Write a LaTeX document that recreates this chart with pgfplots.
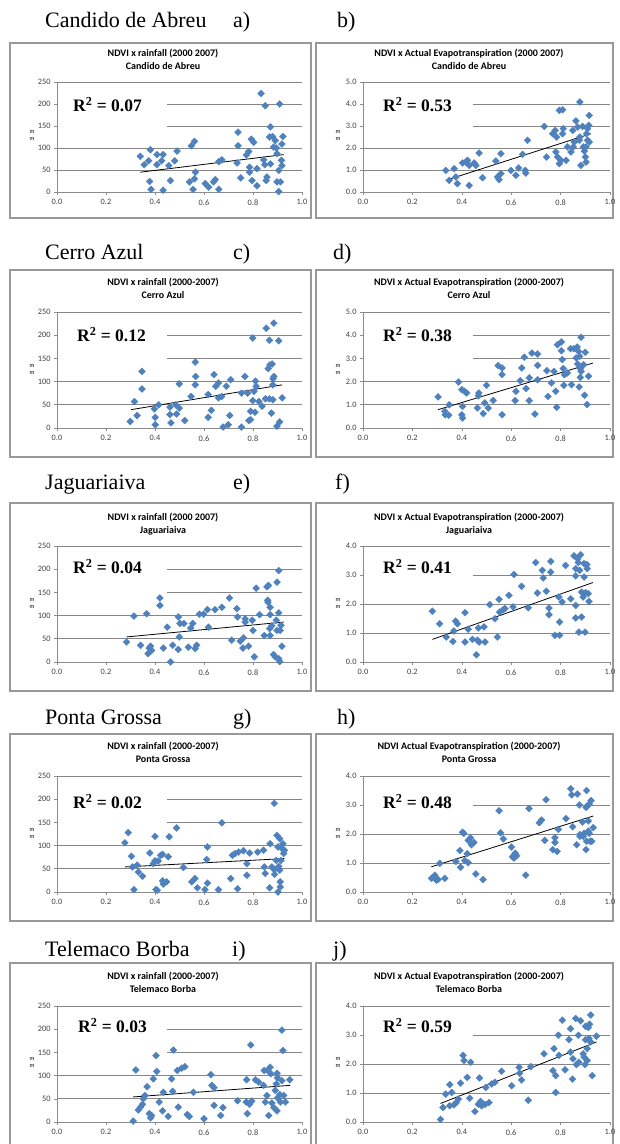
\documentclass[border=0pt]{standalone}
\usepackage{fontspec}
\setmainfont{Liberation Serif}
\newfontfamily\carl{Carlito}
\usepackage{pgfplots}
\pgfplotsset{compat=1.18}
\definecolor{ptblue}{HTML}{4F81BD}
\newcommand\tickf{\carl\fontsize{8.3}{9}\selectfont}
\newcommand\titf{\carl\bfseries\fontsize{10}{11}\selectfont}
\newcommand\hdf{\fontsize{22}{24}\selectfont}
\newcommand\rf{\bfseries\fontsize{17.5}{19}\selectfont}
\newcommand\mf{\carl\fontsize{6}{7}\selectfont}
\pgfplotsset{
  base/.style={scale only axis, anchor=south west, xmin=0, xmax=1, ymin=0, clip=false,
    axis x line=bottom, axis y line=left,
    axis line style={-, draw=gray!90, line width=0.7pt},
    xtick={0,0.2,0.4,0.6,0.8,1.0},
    tick align=outside, major tick length=3pt,
    tick style={draw=gray!90, line width=0.6pt},
    ymajorgrids, grid style={draw=gray!95, line width=0.9pt},
    tick label style={font=\tickf, text=black!75},
    xticklabel style={yshift=-1pt},
    /pgf/number format/assume math mode=true,
    xticklabel style={/pgf/number format/.cd, fixed, fixed zerofill, precision=1},
  },
  lft/.style={base, width=245pt, ymax=250, ytick={0,50,100,150,200,250},
    yticklabel style={/pgf/number format/fixed}},
  rgt5/.style={base, width=247pt, ymax=5, ytick={0,1,2,3,4,5},
    yticklabel style={/pgf/number format/.cd, fixed, fixed zerofill, precision=1}},
  rgt4/.style={base, width=247pt, ymax=4, ytick={0,1,2,3,4},
    yticklabel style={/pgf/number format/.cd, fixed, fixed zerofill, precision=1}},
  pts/.style={only marks, mark=square*, mark size=2.5pt,
    mark options={rotate=45, fill=ptblue, draw=ptblue, line width=0.2pt}},
  trend/.style={black, line width=0.8pt, no marks},
}
\begin{document}
\begin{tikzpicture}
\useasboundingbox (0pt,0pt) rectangle (619pt,1144pt);
% frames
\begin{scope}[draw=gray!80, line width=1.1pt]
\draw (10pt,1101pt) rectangle (311pt,926pt);
\draw (316pt,1101pt) rectangle (613pt,926pt);
\draw (10pt,874pt) rectangle (311pt,687pt);
\draw (316pt,874pt) rectangle (613pt,687pt);
\draw (10pt,641pt) rectangle (311pt,453pt);
\draw (316pt,641pt) rectangle (613pt,453pt);
\draw (10pt,410pt) rectangle (311pt,223pt);
\draw (316pt,410pt) rectangle (613pt,223pt);
\draw (10pt,181pt) rectangle (311pt,-10pt);
\draw (316pt,181pt) rectangle (613pt,-10pt);
\end{scope}
% headers
\node[anchor=base west, inner sep=0pt] at (45pt,1116pt) {\hdf Candido de Abreu};
\node[anchor=base west, inner sep=0pt] at (233pt,1116pt) {\hdf a)};
\node[anchor=base west, inner sep=0pt] at (337pt,1116pt) {\hdf b)};
\node[anchor=base west, inner sep=0pt] at (45pt,884pt) {\hdf Cerro Azul};
\node[anchor=base west, inner sep=0pt] at (233pt,884pt) {\hdf c)};
\node[anchor=base west, inner sep=0pt] at (333pt,884pt) {\hdf d)};
\node[anchor=base west, inner sep=0pt] at (45pt,654pt) {\hdf Jaguariaiva};
\node[anchor=base west, inner sep=0pt] at (233pt,654pt) {\hdf e)};
\node[anchor=base west, inner sep=0pt] at (335pt,654pt) {\hdf f)};
\node[anchor=base west, inner sep=0pt] at (45pt,419pt) {\hdf Ponta Grossa};
\node[anchor=base west, inner sep=0pt] at (233pt,419pt) {\hdf g)};
\node[anchor=base west, inner sep=0pt] at (337pt,419pt) {\hdf h)};
\node[anchor=base west, inner sep=0pt] at (45pt,187pt) {\hdf Telemaco Borba};
\node[anchor=base west, inner sep=0pt] at (232pt,187pt) {\hdf i)};
\node[anchor=base west, inner sep=0pt] at (333pt,187pt) {\hdf j)};
% titles
\foreach \yy/\l/\r/\ll/\rr in {1090/{NDVI x rainfall (2000 2007)}/{NDVI x Actual Evapotranspiration (2000 2007)}/{Candido de Abreu}/{Candido de Abreu},
  861/{NDVI x rainfall (2000-2007)}/{NDVI x Actual Evapotranspiration (2000-2007)}/{Cerro Azul}/{Cerro Azul},
  626/{NDVI x rainfall (2000 2007)}/{NDVI x Actual Evapotranspiration (2000-2007)}/{Jaguariaiva}/{Jaguariaiva},
  397/{NDVI x rainfall (2000-2007)}/{NDVI Actual Evapotranspiration (2000-2007)}/{Ponta Grossa}/{Ponta Grossa},
  167/{NDVI x rainfall (2000-2007)}/{NDVI x Actual Evapotranspiration (2000-2007)}/{Telemaco Borba}/{Telemaco Borba}}{
  \node[inner sep=0pt] at (163pt,\yy pt) {\titf \l};
  \node[inner sep=0pt] at (163pt,\yy pt-12.5pt) {\titf \ll};
  \node[inner sep=0pt] at (469pt,\yy pt) {\titf \r};
  \node[inner sep=0pt] at (469pt,\yy pt-12.5pt) {\titf \rr};
}
% m m labels
\foreach \yy in {1008,774,540,310,81}{
  \node[inner sep=0pt, font=\mf] at (32pt,\yy pt+3.5pt) {m};
  \node[inner sep=0pt, font=\mf] at (32pt,\yy pt-3.5pt) {m};
  \node[inner sep=0pt, font=\mf] at (338pt,\yy pt+3.5pt) {m};
  \node[inner sep=0pt, font=\mf] at (338pt,\yy pt-3.5pt) {m};
}
%%%%% a
\begin{axis}[lft, at={(57pt,952pt)}, height=110pt]
\fill[white] (axis cs:0.005,125) rectangle (axis cs:0.449,225);
\addplot[pts] coordinates {(0.34,81)(0.356,62)(0.374,71)(0.381,96)(0.378,24)(0.384,6)(0.408,85)(0.408,62)(0.433,4)(0.433,85)(0.427,71)(0.456,60)(0.463,26)(0.48,71)(0.49,93)(0.548,105)(0.561,115)(0.541,23)(0.555,6)(0.561,30)(0.565,45)(0.605,19)(0.619,11)(0.639,23)(0.646,28)(0.66,6)(0.66,69)(0.673,73)(0.739,136)(0.739,105)(0.735,66)(0.75,32)(0.773,84)(0.782,92)(0.793,120)(0.803,113)(0.786,56)(0.786,45)(0.796,26)(0.816,14)(0.816,53)(0.833,224)(0.85,196)(0.844,73)(0.848,62)(0.854,26)(0.857,34)(0.871,148)(0.871,64)(0.88,126)(0.891,117)(0.895,100)(0.898,87)(0.898,23)(0.909,200)(0.905,1)(0.905,49)(0.912,23)(0.916,72)(0.918,109)(0.922,126)(0.918,60)(0.868,125)(0.884,102)};
\addplot[trend] coordinates {(0.34,45)(0.925,85)};
\end{axis}
\node[anchor=base west, inner sep=0pt] at (73pt,1032pt) {\rf R\textsuperscript{2} = 0.07};
%%%%% b
\begin{axis}[rgt5, at={(363pt,952pt)}, height=110pt]
\fill[white] (axis cs:0.005,2.5) rectangle (axis cs:0.445,4.5);
\addplot[pts] coordinates {(0.335,0.98)(0.349,0.53)(0.369,1.06)(0.376,0.68)(0.382,0.38)(0.403,1.32)(0.416,1.36)(0.423,1.44)(0.43,1.21)(0.43,0.30)(0.45,1.32)(0.457,1.21)(0.47,1.77)(0.484,0.65)(0.538,1.41)(0.545,0.68)(0.551,0.56)(0.558,0.83)(0.558,1.74)(0.599,0.98)(0.619,0.76)(0.63,1.09)(0.646,1.71)(0.657,0.98)(0.659,0.86)(0.666,2.35)(0.734,2.98)(0.743,1.59)(0.768,2.65)(0.778,2.80)(0.784,2.50)(0.781,1.82)(0.788,1.59)(0.795,1.29)(0.801,1.44)(0.808,2.65)(0.811,2.88)(0.822,1.44)(0.795,3.71)(0.808,3.74)(0.828,2.05)(0.842,1.82)(0.849,2.80)(0.851,2.05)(0.855,2.27)(0.862,3.23)(0.869,2.95)(0.876,2.35)(0.878,2.50)(0.878,4.09)(0.889,2.98)(0.892,2.05)(0.896,1.86)(0.882,1.21)(0.9,1.59)(0.903,1.36)(0.905,2.65)(0.909,2.88)(0.914,3.03)(0.916,3.48)(0.916,2.27)(0.909,2.35)(0.903,2.05)};
\addplot[trend] coordinates {(0.335,0.53)(0.923,2.65)};
\end{axis}
\node[anchor=base west, inner sep=0pt] at (383pt,1032pt) {\rf R\textsuperscript{2} = 0.53};
%%%%% c
\begin{axis}[lft, at={(57pt,716pt)}, height=116pt]
\fill[white] (axis cs:0.005,125) rectangle (axis cs:0.449,225);
\addplot[pts] coordinates {(0.299,14)(0.316,57)(0.327,27)(0.347,122)(0.347,84)(0.397,41)(0.401,23)(0.401,7)(0.415,50)(0.461,45)(0.461,29)(0.465,11)(0.485,50)(0.488,30)(0.499,95)(0.499,43)(0.521,16)(0.547,68)(0.564,142)(0.566,111)(0.564,93)(0.617,23)(0.617,72)(0.63,38)(0.641,115)(0.648,90)(0.659,97)(0.659,65)(0.672,68)(0.678,2)(0.691,90)(0.699,7)(0.705,27)(0.709,104)(0.753,75)(0.753,2)(0.767,111)(0.778,75)(0.783,16)(0.79,18)(0.799,194)(0.799,59)(0.804,79)(0.808,34)(0.81,101)(0.813,90)(0.824,57)(0.837,47)(0.851,63)(0.854,215)(0.862,128)(0.867,189)(0.869,136)(0.878,138)(0.881,61)(0.881,93)(0.885,226)(0.882,106)(0.875,32)(0.905,188)(0.898,4)(0.909,13)(0.919,65)(0.867,63)(0.885,111)(0.79,36)};
\addplot[trend] coordinates {(0.302,39.5)(0.919,93)};
\end{axis}
\node[anchor=base west, inner sep=0pt] at (77pt,802pt) {\rf R\textsuperscript{2} = 0.12};
%%%%% d
\begin{axis}[rgt5, at={(363pt,716pt)}, height=116pt]
\fill[white] (axis cs:0.005,2.5) rectangle (axis cs:0.445,4.5);
\addplot[pts] coordinates {(0.304,1.34)(0.331,0.72)(0.333,0.57)(0.347,0.55)(0.349,1.0)(0.387,1.98)(0.4,1.65)(0.403,0.93)(0.4,0.57)(0.403,0.43)(0.411,1.58)(0.42,1.51)(0.463,0.86)(0.467,1.39)(0.469,1.51)(0.487,0.62)(0.493,1.08)(0.5,1.84)(0.507,0.86)(0.527,1.19)(0.547,2.69)(0.563,2.59)(0.563,2.30)(0.563,0.57)(0.616,1.18)(0.619,1.58)(0.637,2.04)(0.643,2.59)(0.653,3.05)(0.66,1.70)(0.673,1.18)(0.673,2.16)(0.684,3.23)(0.696,0.60)(0.707,3.19)(0.707,2.70)(0.707,2.08)(0.744,2.47)(0.749,1.36)(0.763,1.94)(0.773,2.44)(0.78,1.58)(0.784,0.89)(0.787,3.59)(0.803,3.71)(0.803,3.33)(0.807,2.95)(0.811,2.56)(0.816,2.30)(0.813,1.84)(0.827,2.37)(0.84,3.42)(0.844,1.87)(0.853,3.42)(0.863,3.02)(0.867,3.49)(0.869,2.76)(0.873,3.30)(0.877,3.09)(0.88,2.56)(0.88,2.18)(0.875,1.77)(0.883,3.91)(0.883,2.44)(0.897,1.41)(0.9,3.26)(0.907,1.01)(0.913,2.23)(0.893,2.73)};
\addplot[trend] coordinates {(0.304,0.79)(0.931,2.80)};
\end{axis}
\node[anchor=base west, inner sep=0pt] at (383pt,802pt) {\rf R\textsuperscript{2} = 0.38};
%%%%% e
\begin{axis}[lft, at={(57pt,482pt)}, height=116pt]
\fill[white] (axis cs:0.005,125) rectangle (axis cs:0.449,225);
\addplot[pts] coordinates {(0.284,43)(0.314,99)(0.341,36)(0.366,104)(0.372,18)(0.376,30)(0.382,34)(0.386,25)(0.42,138)(0.42,122)(0.434,30)(0.45,75)(0.464,0)(0.472,36)(0.495,27)(0.495,97)(0.499,54)(0.502,83)(0.518,83)(0.536,32)(0.546,73)(0.554,83)(0.564,29)(0.57,36)(0.581,103)(0.598,103)(0.614,113)(0.618,75)(0.645,113)(0.673,118)(0.704,138)(0.713,47)(0.734,115)(0.737,97)(0.748,45)(0.759,30)(0.761,52)(0.768,93)(0.768,86)(0.782,34)(0.797,90)(0.8,68)(0.805,11)(0.813,159)(0.827,102)(0.846,57)(0.857,162)(0.86,133)(0.861,129)(0.863,165)(0.87,118)(0.87,102)(0.868,72)(0.87,57)(0.877,78)(0.884,16)(0.891,11)(0.895,90)(0.898,172)(0.905,197)(0.905,106)(0.905,7)(0.911,68)(0.914,79)(0.918,34)(0.909,1)(0.898,68)};
\addplot[trend] coordinates {(0.284,54)(0.925,86)};
\end{axis}
\node[anchor=base west, inner sep=0pt] at (73pt,570pt) {\rf R\textsuperscript{2} = 0.04};
%%%%% f
\begin{axis}[rgt4, at={(363pt,482pt)}, height=116pt]
\fill[white] (axis cs:0.005,2.5) rectangle (axis cs:0.445,3.5);
\addplot[pts] coordinates {(0.281,1.75)(0.31,1.32)(0.337,0.86)(0.364,0.71)(0.368,1.07)(0.375,1.41)(0.382,1.32)(0.413,0.69)(0.413,1.70)(0.426,1.13)(0.443,0.78)(0.459,0.25)(0.463,0.75)(0.467,1.17)(0.47,0.69)(0.49,1.21)(0.494,0.69)(0.513,1.98)(0.534,1.49)(0.544,0.86)(0.551,2.16)(0.553,1.72)(0.567,1.80)(0.575,1.84)(0.591,2.30)(0.607,1.90)(0.611,3.02)(0.642,2.61)(0.669,1.87)(0.699,3.43)(0.706,2.38)(0.726,3.16)(0.73,2.90)(0.742,2.44)(0.753,1.86)(0.753,1.63)(0.76,3.47)(0.76,3.10)(0.777,0.92)(0.793,2.24)(0.796,0.92)(0.796,1.38)(0.806,2.07)(0.82,3.33)(0.841,2.18)(0.854,3.66)(0.861,3.22)(0.861,2.97)(0.861,1.52)(0.861,1.95)(0.869,3.56)(0.872,3.43)(0.874,1.03)(0.877,3.16)(0.881,3.70)(0.885,1.55)(0.885,2.41)(0.891,2.24)(0.895,3.39)(0.895,2.93)(0.899,1.03)(0.901,2.39)(0.906,3.36)(0.908,3.22)(0.912,2.36)(0.915,2.09)};
\addplot[trend] coordinates {(0.281,0.78)(0.931,2.74)};
\end{axis}
\node[anchor=base west, inner sep=0pt] at (383pt,570pt) {\rf R\textsuperscript{2} = 0.41};
%%%%% g
\begin{axis}[lft, at={(57pt,252pt)}, height=116pt]
\fill[white] (axis cs:0.005,125) rectangle (axis cs:0.449,225);
\addplot[pts] coordinates {(0.277,106)(0.291,128)(0.304,77)(0.308,54)(0.314,5)(0.327,58)(0.332,43)(0.349,34)(0.379,84)(0.393,61)(0.4,67)(0.4,120)(0.404,5)(0.409,4)(0.413,67)(0.423,79)(0.431,81)(0.431,24)(0.434,17)(0.447,22)(0.454,76)(0.458,119)(0.488,138)(0.516,53)(0.55,22)(0.563,29)(0.573,9)(0.604,5)(0.611,70)(0.614,97)(0.614,19)(0.659,5)(0.673,149)(0.709,29)(0.716,79)(0.727,83)(0.737,7)(0.741,86)(0.761,89)(0.775,61)(0.775,36)(0.786,84)(0.819,86)(0.843,90)(0.846,54)(0.85,40)(0.868,9)(0.87,104)(0.877,54)(0.887,191)(0.887,48)(0.895,68)(0.898,122)(0.902,97)(0.902,0)(0.905,55)(0.909,115)(0.911,22)(0.911,11)(0.914,68)(0.918,94)(0.922,104)(0.925,83)(0.928,90)(0.909,47)(0.888,38)};
\addplot[trend] coordinates {(0.277,54)(0.928,72)};
\end{axis}
\node[anchor=base west, inner sep=0pt] at (73pt,335pt) {\rf R\textsuperscript{2} = 0.02};
%%%%% h
\begin{axis}[rgt4, at={(363pt,252pt)}, height=116pt]
\fill[white] (axis cs:0.005,2.5) rectangle (axis cs:0.445,3.5);
\addplot[pts] coordinates {(0.277,0.47)(0.291,0.58)(0.297,0.41)(0.304,0.43)(0.311,0.99)(0.331,0.47)(0.376,1.05)(0.392,1.43)(0.395,0.85)(0.403,2.06)(0.408,2.02)(0.412,1.08)(0.426,1.01)(0.422,1.32)(0.426,1.78)(0.435,1.87)(0.439,1.63)(0.449,1.71)(0.457,0.62)(0.486,0.43)(0.551,2.80)(0.557,2.04)(0.568,1.83)(0.601,1.55)(0.605,1.22)(0.611,1.17)(0.616,1.34)(0.622,1.25)(0.659,0.58)(0.672,2.88)(0.714,2.39)(0.723,2.48)(0.736,1.78)(0.741,3.18)(0.768,1.46)(0.777,1.71)(0.777,1.87)(0.786,1.40)(0.791,2.16)(0.822,2.53)(0.841,3.56)(0.845,3.35)(0.849,2.25)(0.865,1.63)(0.868,3.38)(0.876,3.00)(0.878,1.92)(0.889,2.41)(0.892,1.92)(0.895,2.02)(0.903,2.92)(0.903,1.46)(0.905,3.50)(0.905,1.75)(0.908,2.97)(0.912,2.45)(0.912,2.10)(0.916,3.03)(0.919,1.75)(0.923,3.15)(0.926,1.75)(0.932,2.22)(0.916,2.02)(0.878,1.98)};
\addplot[trend] coordinates {(0.277,0.87)(0.932,2.62)};
\end{axis}
\node[anchor=base west, inner sep=0pt] at (383pt,335pt) {\rf R\textsuperscript{2} = 0.48};
%%%%% i
\begin{axis}[lft, at={(57pt,22pt)}, height=116pt]
\fill[white] (axis cs:0.005,125) rectangle (axis cs:0.449,225);
\addplot[pts] coordinates {(0.311,2)(0.322,112)(0.332,26)(0.341,32)(0.349,38)(0.352,50)(0.359,57)(0.368,76)(0.377,18)(0.382,9)(0.386,14)(0.393,93)(0.404,143)(0.407,109)(0.417,43)(0.431,24)(0.434,64)(0.454,12)(0.468,93)(0.472,66)(0.475,155)(0.491,111)(0.495,32)(0.509,116)(0.522,119)(0.532,16)(0.54,12)(0.557,64)(0.6,7)(0.628,102)(0.632,79)(0.641,74)(0.641,36)(0.668,14)(0.677,31)(0.737,46)(0.772,43)(0.774,91)(0.777,18)(0.786,38)(0.791,166)(0.795,45)(0.81,91)(0.823,86)(0.843,79)(0.846,111)(0.85,43)(0.857,57)(0.86,111)(0.864,14)(0.87,118)(0.873,104)(0.877,41)(0.885,31)(0.891,68)(0.895,82)(0.898,24)(0.898,105)(0.9,95)(0.9,52)(0.909,59)(0.912,43)(0.918,198)(0.918,89)(0.922,154)(0.925,57)(0.932,43)(0.95,91)};
\addplot[trend] coordinates {(0.311,54)(0.952,79)};
\end{axis}
\node[anchor=base west, inner sep=0pt] at (78pt,111pt) {\rf R\textsuperscript{2} = 0.03};
%%%%% j
\begin{axis}[rgt4, at={(363pt,22pt)}, height=116pt]
\fill[white] (axis cs:0.005,2.5) rectangle (axis cs:0.445,3.5);
\addplot[pts] coordinates {(0.314,0.09)(0.324,0.50)(0.335,0.96)(0.351,0.56)(0.351,1.29)(0.359,1.02)(0.368,0.59)(0.378,0.67)(0.386,0.79)(0.395,1.34)(0.405,2.30)(0.409,2.12)(0.422,1.54)(0.432,0.82)(0.436,2.06)(0.453,0.36)(0.467,0.61)(0.472,1.52)(0.476,0.71)(0.48,0.56)(0.494,0.61)(0.497,1.19)(0.51,0.67)(0.521,1.31)(0.534,1.37)(0.561,1.75)(0.602,1.25)(0.632,1.89)(0.634,1.68)(0.642,1.45)(0.669,0.75)(0.679,1.91)(0.733,2.35)(0.769,1.77)(0.773,2.53)(0.78,1.60)(0.78,1.02)(0.791,2.99)(0.794,2.30)(0.807,3.51)(0.818,1.80)(0.834,2.84)(0.84,3.22)(0.84,2.41)(0.848,1.48)(0.85,2.18)(0.861,3.57)(0.864,1.98)(0.872,2.99)(0.874,2.06)(0.881,3.49)(0.891,2.35)(0.895,2.24)(0.899,1.98)(0.901,2.84)(0.901,3.30)(0.908,2.12)(0.908,2.53)(0.915,2.88)(0.917,3.37)(0.922,3.69)(0.922,2.76)(0.928,1.60)(0.945,2.96)(0.912,3.26)};
\addplot[trend] coordinates {(0.314,0.64)(0.945,2.76)};
\end{axis}
\node[anchor=base west, inner sep=0pt] at (383pt,111pt) {\rf R\textsuperscript{2} = 0.59};
\end{tikzpicture}
\end{document}
